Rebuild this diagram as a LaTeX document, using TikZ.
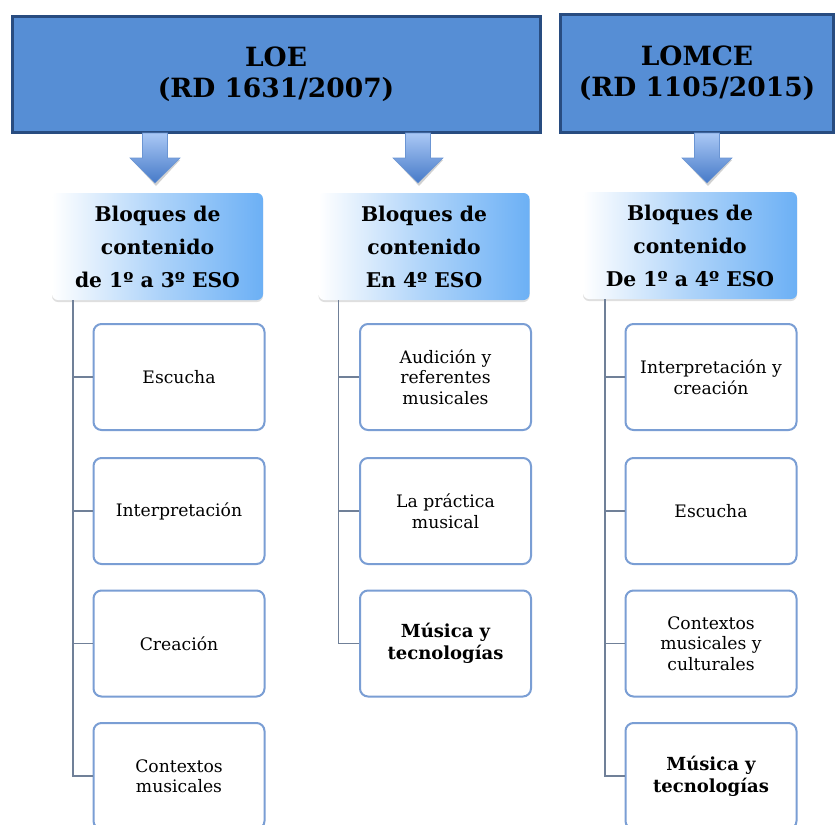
\documentclass[tikz,border=0pt]{standalone}
\usepackage{fontspec}
\setmainfont{DejaVu Serif}
\usetikzlibrary{shadows,calc}
\definecolor{topfill}{RGB}{86,142,213}
\definecolor{topdraw}{RGB}{40,76,128}
\definecolor{hdblue}{RGB}{108,176,245}
\definecolor{kidline}{RGB}{122,158,212}
\definecolor{conn}{RGB}{112,128,152}
\definecolor{arrtop}{RGB}{170,200,245}
\definecolor{arrbot}{RGB}{70,122,200}
\tikzset{
  topbox/.style={draw=topdraw, line width=3pt, fill=topfill, inner sep=0pt,
    font=\fontsize{26.5}{31}\selectfont\bfseries, align=center},
  headbox/.style={rounded corners=6pt, left color=white, right color=hdblue,
    middle color=hdblue!55, shading angle=90, inner sep=0pt,
    minimum width=211pt, minimum height=107pt, align=center,
    font=\fontsize{20.3}{33}\selectfont\bfseries,
    drop shadow={shadow xshift=0pt, shadow yshift=-2pt, opacity=0.25}},
  kidbox/.style={draw=kidline, line width=2pt, rounded corners=8pt, fill=white,
    minimum width=171pt, minimum height=106pt, inner sep=0pt, align=center,
    font=\fontsize{17.2}{20.5}\selectfont},
  kidbold/.style={kidbox, font=\fontsize{18}{22}\selectfont\bfseries},
  connline/.style={draw=conn, line width=1.4pt},
}
\newcommand{\blockarrow}[1]{%
  \fill[black, opacity=0.18] (#1-12.5,135) -- (#1+12.5,135) -- (#1+12.5,160) -- (#1+25,160) -- (#1+1,186) -- (#1-23,160) -- (#1-10.5,160) -- cycle;
  \shade[top color=arrtop, bottom color=arrbot, draw=arrbot!80, line width=0.6pt]
    (#1-12.5,133) -- (#1+12.5,133) -- (#1+12.5,158) -- (#1+25,158) -- (#1,183) -- (#1-25,158) -- (#1-12.5,158) -- cycle;
}
\begin{document}
\begin{tikzpicture}[x=1pt, y=-1pt]
\useasboundingbox (0,0) rectangle (836,825);
\fill[white] (0,0) rectangle (836,825);

% top boxes
\node[topbox, minimum width=528pt, minimum height=116pt] (loe) at (276,74) {LOE\\(RD 1631/2007)};
\node[topbox, minimum width=273pt, minimum height=118pt] (lomce) at (697,73) {LOMCE\\(RD 1105/2015)};

% arrows
\blockarrow{155}
\blockarrow{418}
\blockarrow{707}

% header boxes
\node[headbox] (h1) at (157.5,246.5) {Bloques de\\contenido\\de 1º a 3º ESO};
\node[headbox] (h2) at (424,246.5) {Bloques de\\contenido\\En 4º ESO};
\node[headbox, minimum width=214pt] (h3) at (690,245.5) {Bloques de\\contenido\\De 1º a 4º ESO};

% column 1
\node[kidbox] (a1) at (179,377) {Escucha};
\node[kidbox] (a2) at (179,511) {Interpretación};
\node[kidbox] (a3) at (179,643.5) {Creación};
\node[kidbox] (a4) at (179,776) {Contextos\\musicales};

% column 2
\node[kidbox] (b1) at (445.5,377) {Audición y\\referentes\\musicales};
\node[kidbox] (b2) at (445.5,511) {La práctica\\musical};
\node[kidbold] (b3) at (445.5,643.5) {Música y\\tecnologías};

% column 3
\node[kidbox] (c1) at (711,377) {Interpretación y\\creación};
\node[kidbox] (c2) at (711,511) {Escucha};
\node[kidbox] (c3) at (711,643.5) {Contextos\\musicales y\\culturales};
\node[kidbold] (c4) at (711,776) {Música y\\tecnologías};

% connectors
\coordinate (v1) at ($(h1.south west)+(21,0)$);
\coordinate (v2) at ($(h2.south west)+(20,0)$);
\coordinate (v3) at ($(h3.south west)+(22,0)$);
\foreach \k in {a1,a2,a3,a4} \draw[connline] (v1) |- (\k.west);
\foreach \k in {b1,b2,b3} \draw[connline] (v2) |- (\k.west);
\foreach \k in {c1,c2,c3,c4} \draw[connline] (v3) |- (\k.west);
\end{tikzpicture}
\end{document}
